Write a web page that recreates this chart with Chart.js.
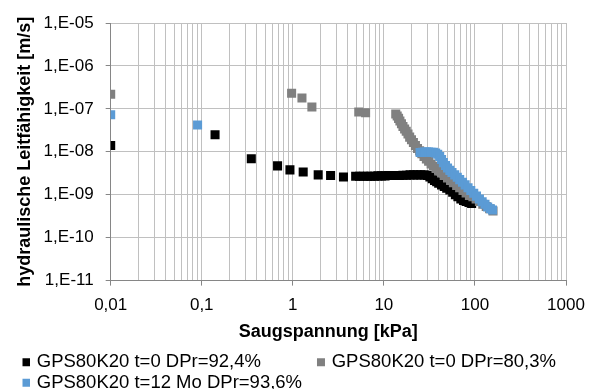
<!DOCTYPE html>
<html>
<head>
<meta charset="utf-8">
<script src="https://cdn.jsdelivr.net/npm/chart.js@4.4.1/dist/chart.umd.min.js"></script>
<style>
    html, body { margin: 0; padding: 0; background: #fff; }
</style>
</head>
<body>
<canvas id="myChart" width="598" height="389"></canvas>
<script>
// series names + colours (legend order)
const seriesNames = ['GPS80K20 t=0 DPr=92,4%', 'GPS80K20 t=0 DPr=80,3%', 'GPS80K20 t=12 Mo DPr=93,6%'];
const seriesColors = ['#000000', '#808080', '#5b9bd5'];

// suction [kPa] / hydraulic conductivity [m/s]
const blackSuction = [0.01, 0.14, 0.35, 0.68, 0.93, 1.3, 1.9, 2.6, 3.6,
    4.9, 5.4, 6.0, 6.6, 7.2, 7.9, 8.6, 9.4, 10.3, 11.3, 12.3, 13.5, 14.8, 16.2, 17.7, 19.4, 21.2, 23.2, 25.4, 27.8,
    30, 32, 34, 36, 38, 40, 43, 46, 49, 53, 57, 61, 65, 70, 75, 80, 86, 92];
const blackConductivity = [1.4e-8, 2.5e-8, 6.9e-9, 4.7e-9, 3.8e-9, 3.4e-9, 2.9e-9, 2.8e-9, 2.6e-9,
    2.7e-9, 2.7e-9, 2.7e-9, 2.7e-9, 2.7e-9, 2.7e-9, 2.75e-9, 2.75e-9, 2.75e-9, 2.8e-9, 2.8e-9, 2.8e-9, 2.8e-9, 2.85e-9, 2.85e-9, 2.9e-9, 2.9e-9, 2.9e-9, 2.9e-9, 2.9e-9,
    2.8e-9, 2.6e-9, 2.35e-9, 2.15e-9, 2.0e-9, 1.85e-9, 1.7e-9, 1.55e-9, 1.42e-9, 1.3e-9, 1.15e-9, 1.0e-9, 9e-10, 8e-10, 7.4e-10, 7e-10, 6.6e-10, 6.3e-10];

const graySuction = [0.01, 0.97, 1.26, 1.62, 5.3, 6.3,
    13.5, 14.0, 14.5, 15.0, 15.6, 16.2, 16.9, 17.6, 18.4, 19.2, 20.1, 21.1, 22.2, 23.4, 24.7, 26.1, 27.6, 29.3,
    31, 33, 35, 37.5, 40, 43, 46, 50, 54, 58, 63, 68, 74, 80, 87, 95, 103, 112, 122, 133, 145, 158];
const grayConductivity = [2.2e-7, 2.3e-7, 1.8e-7, 1.1e-7, 8.5e-8, 8.1e-8,
    7.6e-8, 6.8e-8, 6.0e-8, 5.2e-8, 4.5e-8, 3.9e-8, 3.4e-8, 3.0e-8, 2.6e-8, 2.2e-8, 1.9e-8, 1.65e-8, 1.4e-8, 1.2e-8, 1.05e-8, 9e-9, 7.8e-9, 6.8e-9,
    6e-9, 5.2e-9, 4.6e-9, 4.1e-9, 3.6e-9, 3.2e-9, 2.8e-9, 2.45e-9, 2.15e-9, 1.9e-9, 1.65e-9, 1.45e-9, 1.25e-9, 1.1e-9, 9.6e-10, 9e-10, 8e-10, 7e-10, 6e-10, 5.3e-10, 4.7e-10, 4.2e-10];

const blueSuction = [0.01, 0.09,
    25, 26.5, 28, 29.5, 31, 33, 35, 37, 39, 41, 43, 45, 47.5, 50, 53, 56, 60, 64, 68, 73, 78, 84, 90, 97,
    104, 112, 120, 129, 138, 148, 156];
const blueConductivity = [7.3e-8, 4.2e-8,
    9.6e-9, 9.8e-9, 9.9e-9, 9.9e-9, 9.9e-9, 9.8e-9, 9.7e-9, 9.4e-9, 8.8e-9, 7.8e-9, 6.6e-9, 5.6e-9, 4.8e-9, 4.2e-9, 3.7e-9, 3.3e-9, 2.9e-9, 2.55e-9, 2.25e-9, 1.95e-9, 1.7e-9, 1.45e-9, 1.25e-9, 1.08e-9,
    9.3e-10, 8e-10, 6.9e-10, 6e-10, 5.2e-10, 4.7e-10, 4.4e-10];

// axis ticks
const xTickValues = [0.01, 0.1, 1, 10, 100, 1000];
const xTickLabels = ['0,01', '0,1', '1', '10', '100', '1000'];
const yTickValues = [1e-11, 1e-10, 1e-9, 1e-8, 1e-7, 1e-6, 1e-5];
const yTickLabels = ['1,E-11', '1,E-10', '1,E-09', '1,E-08', '1,E-07', '1,E-06', '1,E-05'];

const xTitle = 'Saugspannung [kPa]';
const yTitle = 'hydraulische Leitfähigkeit [m/s]';

const fontFamily = '"Liberation Sans", Arial, sans-serif';
const gridColor = '#c0c0c0';
const axisColor = '#868686';

function toPoints(xs, ys) {
    return xs.map((x, i) => ({ x: x, y: ys[i] }));
}

function sameValue(a, b) {
    return Math.abs(Math.log10(a) - Math.log10(b)) < 1e-6;
}

function labelFor(values, labels, v) {
    const i = values.findIndex(t => sameValue(t, v));
    return i < 0 ? '' : labels[i];
}

function isDecade(v, values) {
    return values.some(t => sameValue(t, v));
}

// excel style legend spacing: push the bottom legend a bit right/down
const legendShift = {
    id: 'legendShift',
    afterLayout(chart) {
        chart.legend.left += 22.5;
        chart.legend.top += 10.6;
        chart.legend.bottom += 10.6;
    }
};

const allPoints = [
    toPoints(blackSuction, blackConductivity),
    toPoints(graySuction, grayConductivity),
    toPoints(blueSuction, blueConductivity)
];

const datasets = seriesNames.map((name, i) => ({
    label: name,
    data: allPoints[i],
    order: 3 - i,  // later series drawn on top, like excel
    showLine: false,
    pointStyle: 'rect',
    pointRadius: 6.4,
    pointHoverRadius: 6.4,
    borderWidth: 0,
    backgroundColor: seriesColors[i],
    borderColor: seriesColors[i]
}));

const ctx = document.getElementById('myChart');
new Chart(ctx, {
    type: 'scatter',
    data: { datasets: datasets },
    plugins: [legendShift],
    options: {
        responsive: false,
        animation: false,
        layout: { padding: { top: 23, right: 32, bottom: -2.4, left: 0 } },
        plugins: {
            tooltip: { enabled: false },
            legend: {
                position: 'bottom',
                align: 'start',
                labels: {
                    color: '#000',
                    font: { family: fontFamily, size: 18.5 },
                    usePointStyle: true,
                    boxWidth: 3,
                    boxHeight: 8,
                    padding: 2,
                    sort: (a, b) => a.datasetIndex - b.datasetIndex,
                    generateLabels: chart => {
                        const items = Chart.defaults.plugins.legend.labels.generateLabels(chart);
                        items.forEach(it => {
                            it.lineWidth = 0;
                            if (it.datasetIndex === 0) it.text += ' '.repeat(11);
                        });
                        return items;
                    }
                }
            }
        },
        scales: {
            x: {
                type: 'logarithmic',
                min: 0.01,
                max: 1000,
                afterBuildTicks: axis => {
                    const ticks = [];
                    xTickValues.forEach((v, i) => {
                        ticks.push({ value: v });
                        if (i < xTickValues.length - 1) {
                            for (let m = 2; m <= 9; m++) ticks.push({ value: v * m });
                        }
                    });
                    axis.ticks = ticks;
                },
                ticks: {
                    autoSkip: false,
                    maxRotation: 0,
                    padding: 9,
                    color: '#000',
                    font: { family: fontFamily, size: 17 },
                    callback: v => labelFor(xTickValues, xTickLabels, v)
                },
                grid: {
                    color: gridColor,
                    tickLength: 5,
                    tickColor: c => (c.tick && isDecade(c.tick.value, xTickValues)) ? axisColor : 'rgba(0,0,0,0)'
                },
                border: { color: axisColor },
                title: {
                    display: true,
                    text: xTitle + '    ',
                    color: '#000',
                    font: { family: fontFamily, size: 18, weight: 'bold', lineHeight: 0.91 },
                    padding: { top: 0, bottom: 0 }
                }
            },
            y: {
                type: 'logarithmic',
                min: 1e-11,
                max: 1e-5,
                afterBuildTicks: axis => {
                    axis.ticks = yTickValues.map(v => ({ value: v }));
                },
                ticks: {
                    autoSkip: false,
                    padding: 12,
                    color: '#000',
                    font: { family: fontFamily, size: 17 },
                    callback: v => labelFor(yTickValues, yTickLabels, v)
                },
                grid: {
                    color: gridColor,
                    tickLength: 5,
                    tickColor: axisColor
                },
                border: { color: axisColor },
                title: {
                    display: true,
                    text: yTitle,
                    color: '#000',
                    font: { family: fontFamily, size: 18, weight: 'bold' },
                    padding: { top: 14, bottom: -4 }
                }
            }
        }
    }
});
</script>
</body>
</html>
